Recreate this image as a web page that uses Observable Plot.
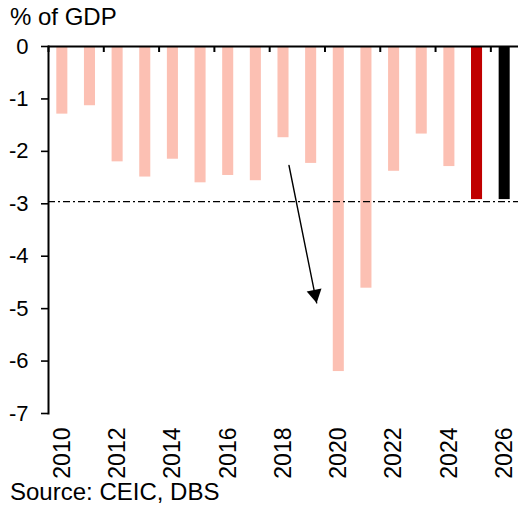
<!DOCTYPE html>
<html><head><meta charset="utf-8">
<script src="https://cdn.jsdelivr.net/npm/d3@7"></script>
<script src="https://cdn.jsdelivr.net/npm/@observablehq/plot@0.6"></script>
<style>
body{margin:0;background:#fff;}
#wrap{position:relative;width:522px;height:506px;font-family:"Liberation Sans",Arial,sans-serif;color:#000;overflow:hidden;}
.t{position:absolute;left:10px;font-size:24px;line-height:24px;white-space:nowrap;}
#title{top:5px;}
#source{top:480px;}
#chart{position:absolute;left:0;top:30px;}
</style></head><body>
<div id="wrap">
<div id="title" class="t">% of GDP</div>
<div id="chart"></div>
<div id="source" class="t">Source: CEIC, DBS</div>
</div>
<script>
// Data
const years = [2010, 2011, 2012, 2013, 2014, 2015, 2016, 2017, 2018, 2019, 2020, 2021, 2022, 2023, 2024, 2025, 2026];
const values = [-1.29, -1.13, -2.2, -2.49, -2.15, -2.6, -2.46, -2.56, -1.74, -2.23, -6.2, -4.61, -2.38, -1.67, -2.29, -2.92, -2.92];
const yTicks = [0, -1, -2, -3, -4, -5, -6, -7];
const xLabelYears = [2010, 2012, 2014, 2016, 2018, 2020, 2022, 2024, 2026];
const xTickYears = [2010, 2012, 2014, 2016, 2018, 2020, 2022, 2024, 2026];
const refLine = [-2.96];
const arrowData = [{x1: 2018, y1: -2.27, x2: 2019, y2: -4.89}];

const data = years.map((year, i) => ({year, value: values[i]}));

const W = 522, H = 452, mL = 48, mR = 4, mT = 16, mB = 69;
const step = (W - mL - mR) / years.length;
const pxPerUnit = (H - mT - mB) / 7;
const tickDepth = -6 / pxPerUnit; // 6px tick below the zero line
const pink = "#FCC0B3", red = "#C00000", black = "#000000";
const barFill = d => d.year === 2025 ? red : d.year === 2026 ? black : pink;

const chart = Plot.plot({
  width: W, height: H,
  marginLeft: mL, marginRight: mR, marginTop: mT, marginBottom: mB,
  style: {fontFamily: '"Liberation Sans", Arial, sans-serif', background: "white", color: "black", overflow: "visible"},
  x: {type: "band", domain: years, padding: 0, round: false},
  y: {domain: [-7, 0], nice: false},
  marks: [
    Plot.barY(data, {x: "year", y: "value", fill: barFill, insetLeft: 8.3, insetRight: 8.3}),
    Plot.ruleY(refLine, {stroke: "black", strokeWidth: 1.2, strokeDasharray: "7,3,2,3"}),
    Plot.ruleY([0], {stroke: "black", strokeWidth: 2}),
    Plot.ruleX(xTickYears, {x: d => d, y1: () => 0, y2: () => tickDepth, dx: -step / 2, stroke: "black", strokeWidth: 2}),
    Plot.frame({anchor: "left", stroke: "black", strokeWidth: 2}),
    Plot.axisY(yTicks, {anchor: "left", tickSize: 7, tickPadding: 13, tickFormat: d => String(d), fontSize: 22, label: null, strokeWidth: 1.6}),
    Plot.axisX(xLabelYears, {anchor: "bottom", tickSize: 0, tickPadding: 14, tickRotate: -90, tickFormat: d => String(d), fontSize: 23, label: null}),
    Plot.arrow(arrowData, {x1: "x1", y1: "y1", x2: "x2", y2: "y2", stroke: "black", strokeWidth: 1.4, headLength: 0, dx: 5.5}),
    Plot.dot(arrowData, {x: "x2", y: "y2", symbol: "triangle", r: 5.6, fill: "black", stroke: "none", rotate: 168.6, dx: 3.8, dy: -8.5})
  ]
});
document.getElementById("chart").appendChild(chart);
</script>
</body></html>
